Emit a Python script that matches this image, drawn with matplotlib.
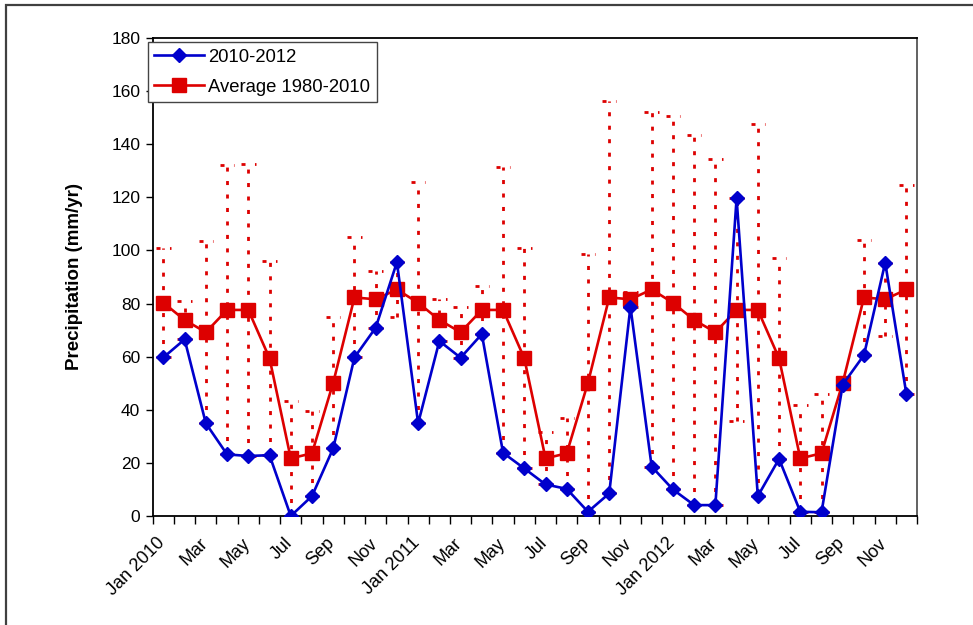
import matplotlib
matplotlib.use('Agg')
import matplotlib.pyplot as plt
from matplotlib.patches import Rectangle
from matplotlib.transforms import ScaledTranslation

plt.rcParams['font.family'] = ['Liberation Sans', 'DejaVu Sans']

# Monthly precipitation, Jan 2010 - Dec 2012
months = ["Jan 2010", "Feb", "Mar", "Apr", "May", "Jun", "Jul", "Aug", "Sep", "Oct", "Nov", "Dec",
          "Jan 2011", "Feb", "Mar", "Apr", "May", "Jun", "Jul", "Aug", "Sep", "Oct", "Nov", "Dec",
          "Jan 2012", "Feb", "Mar", "Apr", "May", "Jun", "Jul", "Aug", "Sep", "Oct", "Nov", "Dec"]

obs_2010_2012 = [59.7, 66.5, 34.9, 23.2, 22.6, 22.9, 0.0, 7.5, 25.5, 59.7, 70.9, 95.6,
                 34.9, 65.9, 59.6, 68.5, 23.8, 17.9, 11.9, 10.2, 1.6, 8.5, 78.8, 18.6,
                 10.0, 4.1, 4.1, 119.6, 7.5, 21.5, 1.6, 1.4, 49.5, 60.6, 95.4, 45.8]

avg_1980_2010 = [80.3, 73.8, 69.2, 77.6, 77.6, 59.4, 21.7, 23.6, 50.2, 82.3, 81.6, 85.3,
                 80.3, 73.8, 69.2, 77.6, 77.6, 59.4, 21.7, 23.6, 50.2, 82.3, 81.6, 85.3,
                 80.3, 73.8, 69.2, 77.6, 77.6, 59.4, 21.7, 23.6, 50.2, 82.3, 81.6, 85.3]

# half-length of the dotted error bars
spread = [20.6, 7.3, 34.3, 54.4, 55.0, 36.5, 21.7, 16.1, 24.7, 22.6, 10.7, 10.3,
          45.4, 7.9, 9.6, 9.1, 53.8, 41.5, 9.8, 13.4, 48.6, 73.8, 2.8, 66.7,
          70.3, 69.7, 65.1, 42.0, 70.1, 37.9, 20.1, 22.2, 0.7, 21.7, 13.8, 39.5]

blue = '#0000CC'
red = '#DD0000'

fig = plt.figure(figsize=(9.73, 6.25), dpi=100)
ax = fig.add_axes([0.157, 0.1744, 0.7855, 0.7648])

x = list(range(len(months)))

# error bars (dotted, with dotted caps)
dots = (0, (1.45, 3.4))
lo = [a - s for a, s in zip(avg_1980_2010, spread)]
hi = [a + s for a, s in zip(avg_1980_2010, spread)]
ax.vlines(x, lo, hi, colors=red, linestyles=dots, linewidth=2.0, zorder=1)
cap = 0.34
ax.hlines(hi, [xi - cap for xi in x], [xi + cap for xi in x], colors=red,
          linestyles=dots, linewidth=2.0, zorder=1)
ax.hlines(lo, [xi - cap for xi in x], [xi + cap for xi in x], colors=red,
          linestyles=dots, linewidth=2.0, zorder=1)

ax.plot(x, avg_1980_2010, color=red, marker='s', markersize=9.8, linewidth=1.9,
        label='Average 1980-2010', zorder=3)
ax.plot(x, obs_2010_2012, color=blue, marker='D', markersize=7.2, linewidth=1.9,
        label='2010-2012', zorder=4)

ax.set_xlim(-0.5, len(months) - 0.5)
ax.set_ylim(0, 180)
ax.set_yticks(range(0, 181, 20))
ax.tick_params(axis='y', labelsize=12.5, length=5, width=1, direction='out', pad=4)

# ticks at category boundaries, labels every second month
ax.set_xticks([i - 0.5 for i in range(len(months) + 1)], minor=True)
ax.set_xticks(x[::2])
ax.set_xticklabels(months[::2], rotation=45, ha='right', va='top',
                   rotation_mode='anchor')
ax.tick_params(axis='x', which='major', length=0, labelsize=13, pad=12)
ax.tick_params(axis='x', which='minor', length=6, width=1, direction='out')
shift = ScaledTranslation(-7 / 100, -2 / 100, fig.dpi_scale_trans)
for lab in ax.get_xticklabels():
    lab.set_transform(lab.get_transform() + shift)

for sp in ax.spines.values():
    sp.set_linewidth(1.3)
    sp.set_color('black')
ax.spines['right'].set_color('#555555')

ax.set_ylabel('Precipitation (mm/yr)', fontsize=13.5, fontweight='bold', labelpad=20)

handles, labels = ax.get_legend_handles_labels()
leg = ax.legend(handles[::-1], labels[::-1], loc='upper left',
                bbox_to_anchor=(148 / 973, 1 - 42.5 / 625), bbox_transform=fig.transFigure,
                fontsize=13.3, frameon=True, fancybox=False, framealpha=1,
                edgecolor='#444444', borderpad=0.35, labelspacing=0.7,
                handlelength=2.7, handletextpad=0.2, borderaxespad=0)
leg.get_frame().set_linewidth(1.0)

# outer chart frame (only left and top edges fall inside the picture)
fig.add_artist(Rectangle((6 / 973, -0.1), 1.2, 1.1 - 5 / 625, transform=fig.transFigure,
                         fill=False, edgecolor='#404040', linewidth=1.6, clip_on=False))

plt.savefig('out.png', dpi=100)
